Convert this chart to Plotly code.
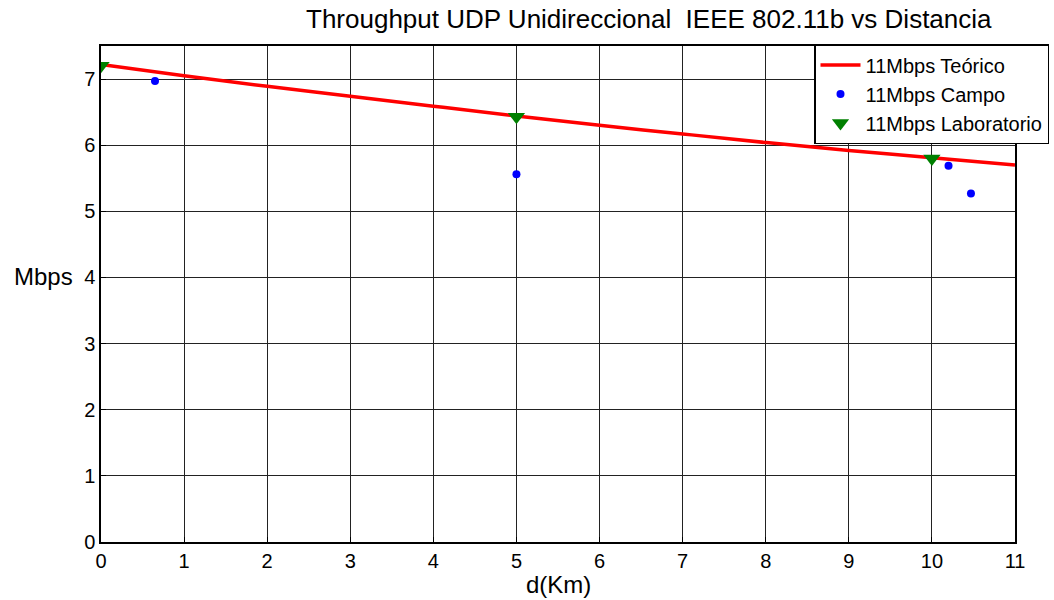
import plotly.graph_objects as go

# Data
teo_x = [0, 1, 2, 3, 4, 5, 6, 7, 8, 9, 10, 11]
teo_y = [7.22, 7.05, 6.89, 6.74, 6.59, 6.44, 6.30, 6.17, 6.04, 5.92, 5.81, 5.70]
campo_x = [0.65, 5.0, 10.2, 10.47]
campo_y = [6.97, 5.56, 5.69, 5.27]
lab_x = [0, 5, 10]
lab_y = [7.2, 6.43, 5.80]
x_ticks = list(range(0, 12))
y_ticks = list(range(0, 8))

FONT = "Liberation Sans, Arial, sans-serif"

fig = go.Figure()
fig.add_trace(go.Scatter(x=teo_x, y=teo_y, mode="lines", name="11Mbps Teórico",
                         line=dict(color="red", width=3.5), line_shape="spline"))
fig.add_trace(go.Scatter(x=campo_x, y=campo_y, mode="markers", name="11Mbps Campo",
                         marker=dict(color="blue", size=8, symbol="circle")))
fig.add_trace(go.Scatter(x=lab_x, y=lab_y, mode="markers", name="11Mbps Laboratorio",
                         marker=dict(color="green", size=15, symbol="triangle-down")))

axis_common = dict(showgrid=True, gridcolor="#222", gridwidth=1, zeroline=False,
                   showline=True, linecolor="black", linewidth=1.5, mirror=True,
                   ticks="inside", ticklen=5, tickcolor="black", automargin=False,
                   tickfont=dict(family=FONT, size=20, color="black"))

fig.update_layout(
    width=1054, height=600,
    margin=dict(l=101, r=39, t=46, b=58, autoexpand=False),
    paper_bgcolor="white", plot_bgcolor="white",
    xaxis=dict(range=[0, 11], tickvals=x_ticks, **axis_common),
    yaxis=dict(range=[0, 7.5], tickvals=y_ticks, **axis_common),
    showlegend=True,
    legend=dict(x=(814 - 101) / 914, y=(542 - 44) / 496, xanchor="left", yanchor="top",
                bgcolor="white", bordercolor="black", borderwidth=1.5,
                font=dict(family=FONT, size=20, color="black"),
                itemwidth=40, tracegroupgap=0),
    annotations=[
        dict(text="Throughput UDP Unidireccional  IEEE 802.11b vs Distancia",
             xref="paper", yref="paper", x=(649 - 101) / 914, y=1.0, yshift=27,
             xanchor="center", yanchor="middle", showarrow=False,
             font=dict(family=FONT, size=26, color="black")),
        dict(text="d(Km)", xref="paper", yref="paper", x=0.5, y=0, yshift=-42,
             xanchor="center", yanchor="middle", showarrow=False,
             font=dict(family=FONT, size=24, color="black")),
        dict(text="Mbps", xref="paper", yref="paper", x=0, xshift=-58, y=(542 - 276) / 496,
             xanchor="center", yanchor="middle", showarrow=False,
             font=dict(family=FONT, size=24, color="black")),
    ],
)

fig.write_html("out.html", config={"displayModeBar": False},
               post_script="document.body.style.margin='0';document.body.style.overflow='hidden';")
